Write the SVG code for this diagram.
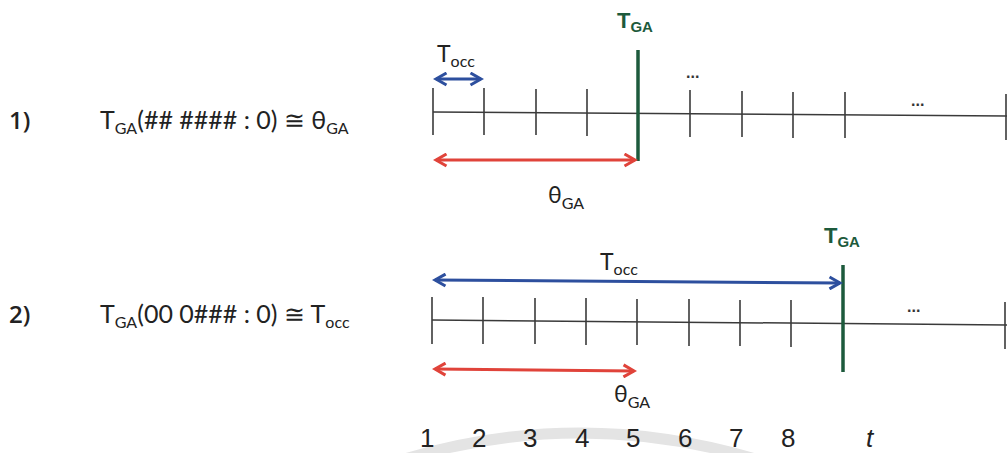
<svg xmlns="http://www.w3.org/2000/svg" width="1007" height="453" viewBox="0 0 1007 453">
<style>
.ax{stroke:#3a3a3a;stroke-width:1.5;fill:none}
.tk{stroke:#3a3a3a;stroke-width:1.6}
.gr{stroke:#1d5a3c;stroke-width:3.5}
.bl{stroke:#2d4f9e;stroke-width:3;fill:none}
.rd{stroke:#e0433a;stroke-width:3;fill:none}
.lbl{font-family:"Lato","Open Sans","Liberation Sans",sans-serif;font-size:23px;fill:#222}
.fm{font-size:25px}
.sub{font-size:16px}
.idx{font-family:"Open Sans","Liberation Sans",sans-serif;font-size:24px;font-weight:600;fill:#222}
.tga{font-family:"Liberation Sans",Arial,sans-serif;font-weight:bold;fill:#1d5a3c;font-size:22px}
.num{font-family:"Liberation Sans",Arial,sans-serif;font-size:26px;fill:#222}
.dots{font-family:"Liberation Sans",Arial,sans-serif;font-size:16px;font-weight:bold;fill:#333}
</style>
<defs>
<marker id="ab" viewBox="0 0 10 10" refX="8" refY="5" markerWidth="5" markerHeight="5" orient="auto-start-reverse" markerUnits="strokeWidth">
<path d="M1,1 L8,5 L1,9" stroke="#2d4f9e" stroke-width="2" fill="none"/>
</marker>
<marker id="ar" viewBox="0 0 10 10" refX="8" refY="5" markerWidth="5" markerHeight="5" orient="auto-start-reverse" markerUnits="strokeWidth">
<path d="M1,1 L8,5 L1,9" stroke="#e0433a" stroke-width="2" fill="none"/>
</marker>
</defs>
<rect width="1007" height="453" fill="#ffffff"/>
<path d="M395,462 Q580,404 765,462" stroke="#e4e4e4" stroke-width="11" fill="none"/>

<g id="label1">
<text class="idx" x="9" y="129">1)</text>
<text class="lbl fm" x="100" y="129">T<tspan class="sub" dy="5">GA</tspan><tspan dy="-5">(## #### : 0) ≅ θ</tspan><tspan class="sub" dy="5">GA</tspan></text>
</g>
<g id="label2">
<text class="idx" x="9" y="323">2)</text>
<text class="lbl fm" x="100" y="323">T<tspan class="sub" dy="5">GA</tspan><tspan dy="-5">(00 0### : 0) ≅ T</tspan><tspan class="sub" dy="5">occ</tspan></text>
</g>

<g id="timeline1">
<line class="ax" x1="433" y1="112" x2="1007" y2="116"/>
<line class="tk" x1="433" y1="88" x2="433" y2="135"/>
<line class="tk" x1="484" y1="88" x2="484" y2="135"/>
<line class="tk" x1="536" y1="89" x2="536" y2="135"/>
<line class="tk" x1="587" y1="89" x2="587" y2="136"/>
<line class="tk" x1="690" y1="90" x2="690" y2="137"/>
<line class="tk" x1="742" y1="91" x2="742" y2="137"/>
<line class="tk" x1="793" y1="92" x2="793" y2="138"/>
<line class="tk" x1="845" y1="92" x2="845" y2="138"/>
<line class="tk" x1="1006" y1="94" x2="1006" y2="140"/>
<text class="dots" x="686" y="78">...</text>
<text class="dots" x="911" y="106">...</text>
</g>
<g id="tga1">
<line class="gr" x1="638" y1="50" x2="638" y2="161"/>
<text class="tga" x="617" y="28">T<tspan font-size="15" dy="4">GA</tspan></text>
</g>

<g id="timeline2">
<line class="ax" x1="432" y1="320" x2="1007" y2="325"/>
<line class="tk" x1="432" y1="297" x2="432" y2="344"/>
<line class="tk" x1="483" y1="297" x2="483" y2="344"/>
<line class="tk" x1="535" y1="298" x2="535" y2="344"/>
<line class="tk" x1="586" y1="298" x2="586" y2="345"/>
<line class="tk" x1="637" y1="299" x2="637" y2="345"/>
<line class="tk" x1="689" y1="299" x2="689" y2="346"/>
<line class="tk" x1="740" y1="300" x2="740" y2="346"/>
<line class="tk" x1="791" y1="300" x2="791" y2="347"/>
<line class="tk" x1="1005" y1="302" x2="1005" y2="349"/>
<text class="dots" x="907" y="312">...</text>
</g>
<g id="tga2">
<line class="gr" x1="843" y1="265" x2="843" y2="372"/>
<text class="tga" x="824" y="243">T<tspan font-size="15" dy="4">GA</tspan></text>
</g>

<g id="connectors">
<line class="bl" x1="436" y1="79" x2="481" y2="79" marker-start="url(#ab)" marker-end="url(#ab)"/>
<line class="rd" x1="436" y1="160" x2="635" y2="160" marker-start="url(#ar)" marker-end="url(#ar)"/>
<line class="bl" x1="435" y1="280" x2="840" y2="283" marker-start="url(#ab)" marker-end="url(#ab)"/>
<line class="rd" x1="435" y1="369" x2="634" y2="371" marker-start="url(#ar)" marker-end="url(#ar)"/>
</g>

<g id="arrowlabels">
<text class="lbl" x="437" y="62" font-size="21">T<tspan class="sub" dy="5">occ</tspan></text>
<text class="lbl" x="548" y="203" font-size="23">θ<tspan class="sub" dy="6">GA</tspan></text>
<text class="lbl" x="600" y="270" font-size="21">T<tspan class="sub" dy="5">occ</tspan></text>
<text class="lbl" x="614" y="402" font-size="23">θ<tspan class="sub" dy="6">GA</tspan></text>
</g>

<g id="axisnumbers">
<text class="num" x="420" y="447">1</text>
<text class="num" x="472" y="447">2</text>
<text class="num" x="523" y="447">3</text>
<text class="num" x="575" y="447">4</text>
<text class="num" x="626" y="447">5</text>
<text class="num" x="678" y="447">6</text>
<text class="num" x="729" y="447">7</text>
<text class="num" x="781" y="447">8</text>
<text class="num" x="866" y="447" font-style="italic">t</text>
</g>
</svg>
